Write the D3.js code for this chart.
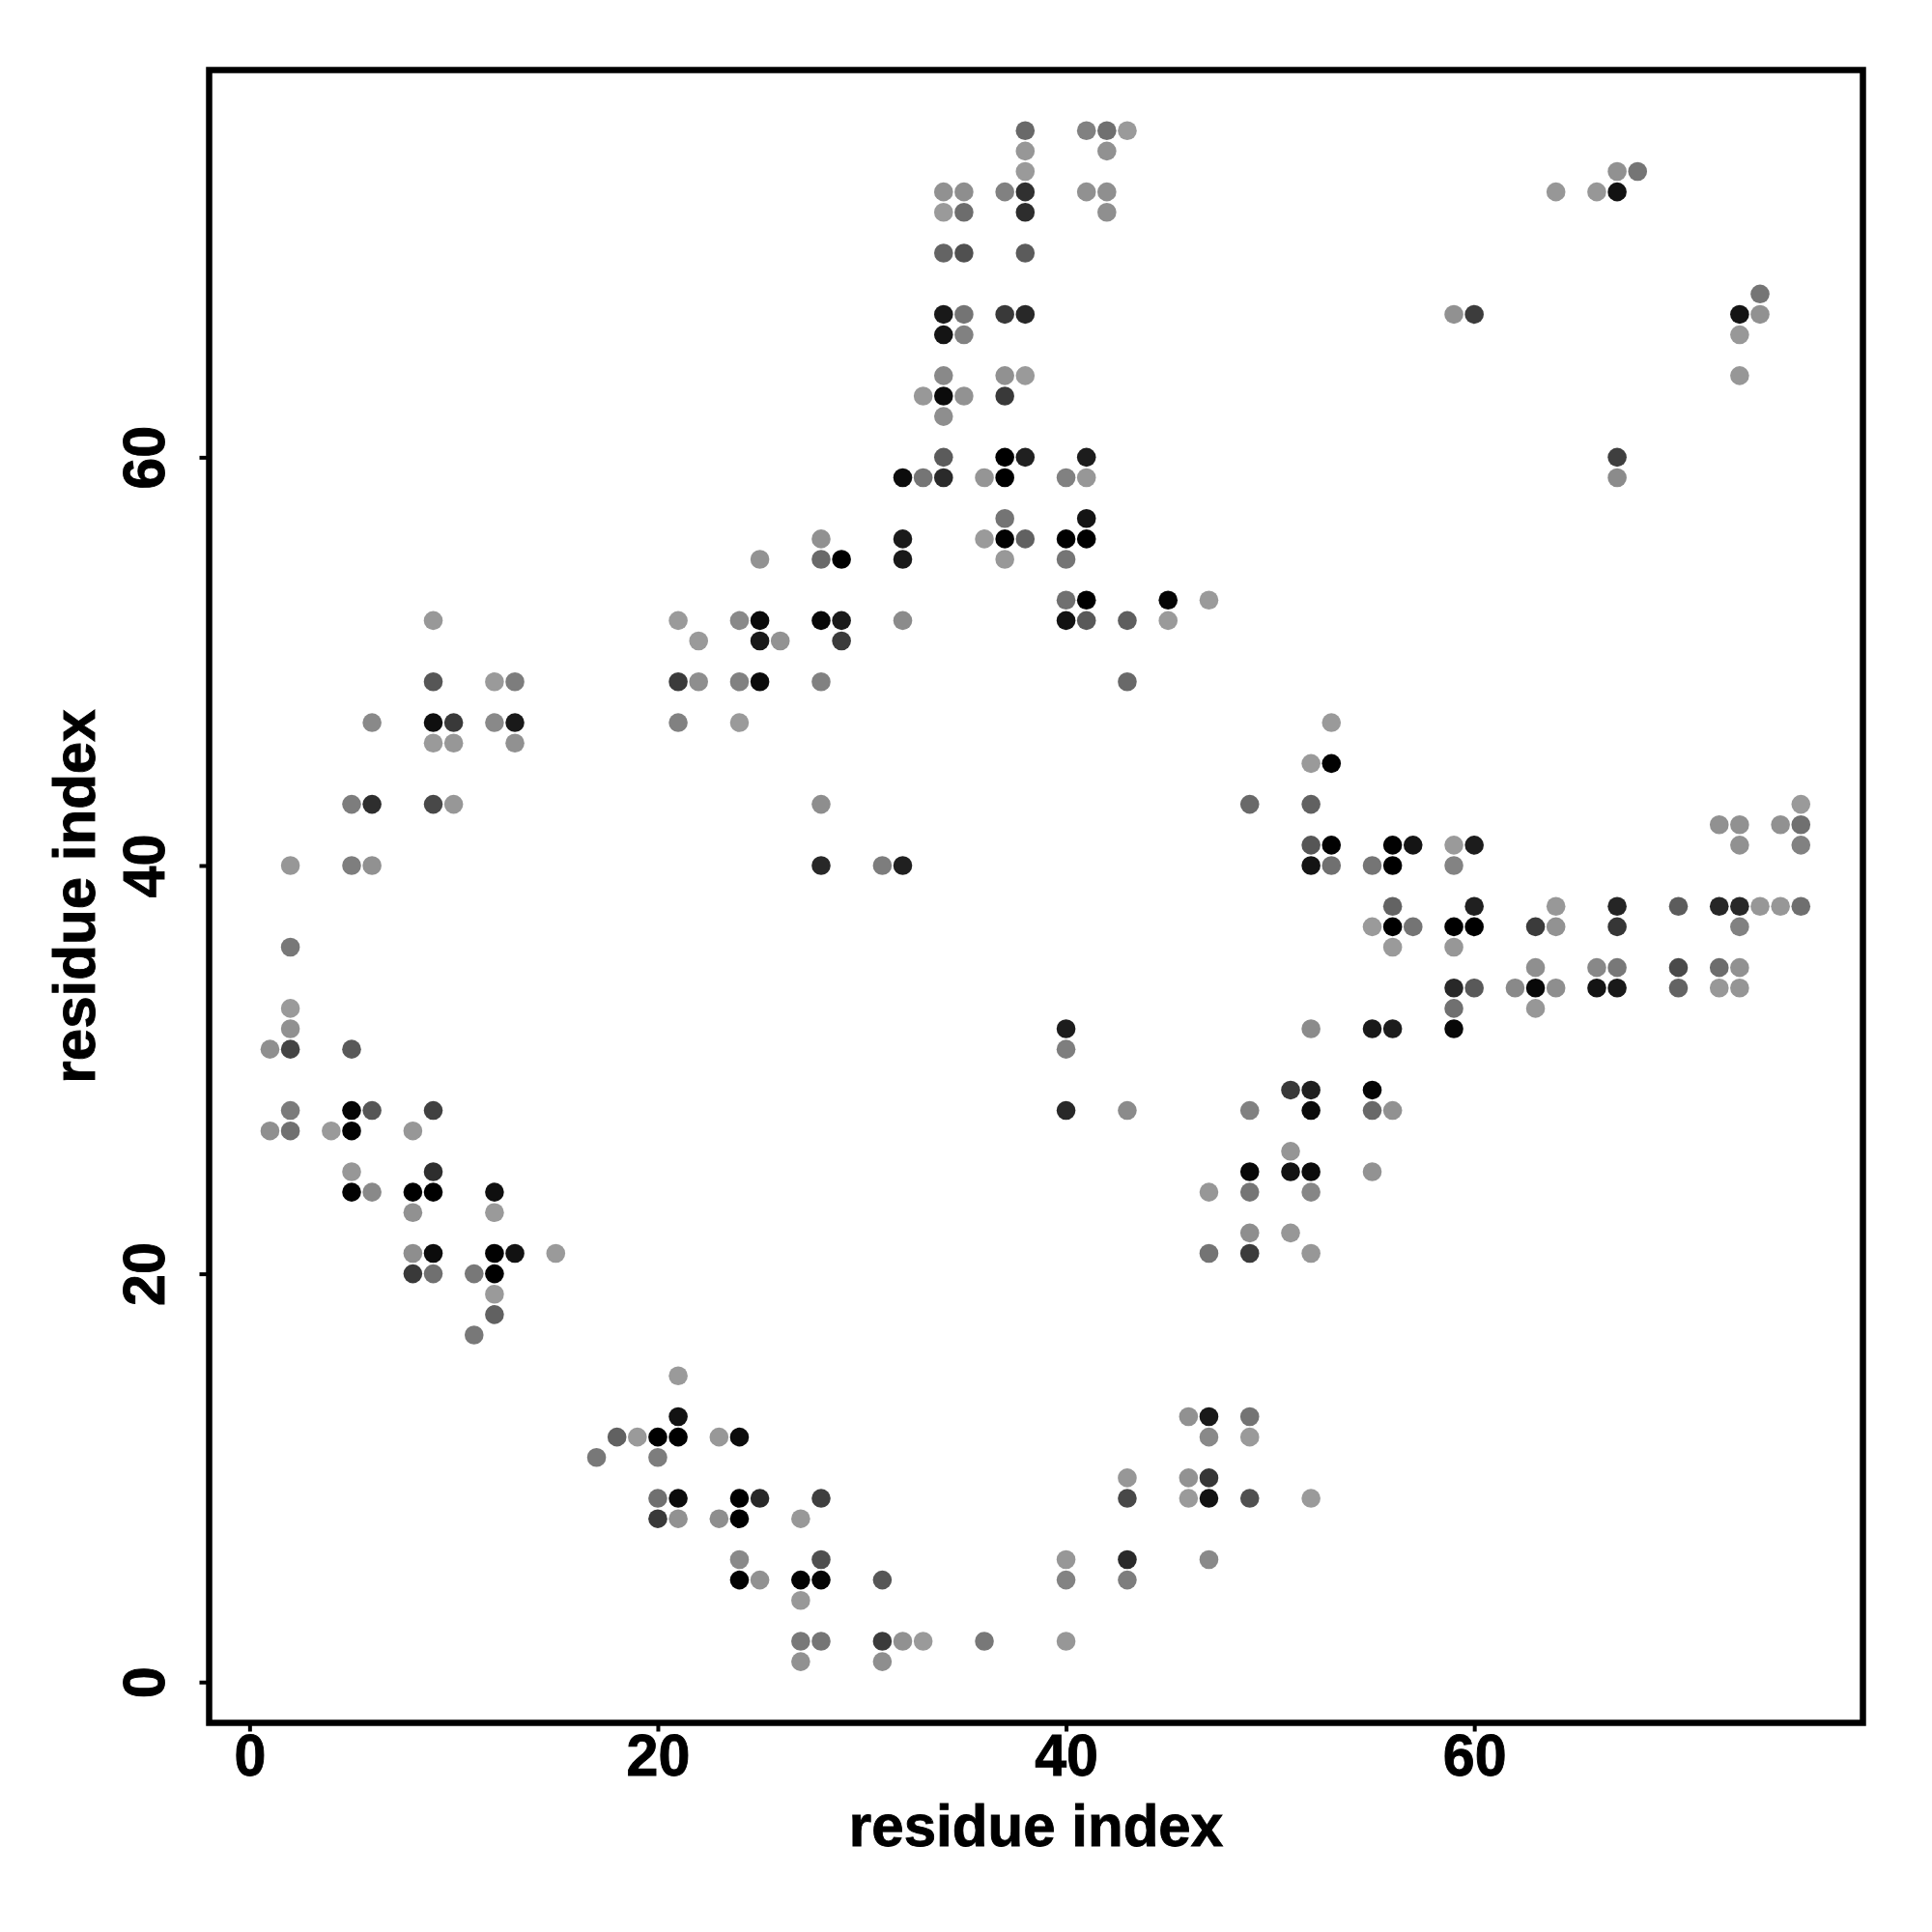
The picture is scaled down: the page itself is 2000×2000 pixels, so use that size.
<!DOCTYPE html>
<html>
<head>
<meta charset="utf-8">
<script src="https://cdn.jsdelivr.net/npm/d3@7/dist/d3.min.js"></script>
<style>
html,body{margin:0;padding:0;background:#fff}
svg{display:block}
text{font-family:"Liberation Sans",Arial,sans-serif;font-weight:700;fill:#000;stroke:#000;stroke-width:0.9px}
</style>
</head>
<body>
<svg id="chart" width="2000" height="2000"></svg>
<script>
// Residue on the vertical axis for each row of contacts
const rowResidue = [76,75,74,73,72,70,68,67,66,64,63,62,60,59,57,56,55,53,52,51,49,47,46,45,43,42,41,40,38,37,36,35,34,33,32,31,29,28,27,26,25,24,23,22,21,20,19,18,17,15,13,12,11,10,9,8,6,5,4,2,1];
// Residues on the horizontal axis that are in contact with that row
const rowPartners = [
[38,41,42,43],[38,42],[38,67,68],[34,35,37,38,41,42,64,66,67],[34,35,38,42],[34,35,38],[74],
[34,35,37,38,59,60,73,74],[34,35,73],[34,37,38,73],[33,34,35,37],[34],[34,37,38,41,67],
[32,33,34,36,37,40,41,67],[37,41],[28,32,36,37,38,40,41],[25,28,29,32,37,40],[40,41,45,47],
[9,21,24,25,28,29,32,40,41,43,45],[22,25,26,29],[9,12,13,21,22,24,25,28,43],[6,9,10,12,13,21,24,53],
[9,10,13],[52,53],[5,6,9,10,28,49,52,76],[72,73,75,76],[52,53,56,57,59,60,73,76],
[2,5,6,28,31,32,52,53,55,56,59],[56,60,64,67,70,72,73,74,75,76],[55,56,57,59,60,63,64,67,73],
[2,56,59],[63,66,67,70,72,73],[59,60,62,63,64,66,67,70,72,73],[2,59,63],[2,40,52,55,56,59],
[1,2,5,40],[51,52,55],[2,5,6,9,40,43,49,52,55,56],[1,2,4,5,8],[51],[5,9,49,51,52,55],
[5,6,8,9,12,47,49,52],[8,12],[49,51],[8,9,12,13,15,47,49,52],[8,9,11,12],[12],[12],[11],[21],
[21,46,47,49],[18,19,20,21,23,24,47,49],[17,20],[43,46,47],[20,21,24,25,28,43,46,47,49,52],
[20,21,23,24,27],[24,28,40,43,47],[24,25,27,28,31,40,43],[27],[27,28,31,32,33,36,40],[27,31]
];
// Contact strength read from the darkness of each point (0 lightest, 100 black)
const rowStrengths = [
[32,16,27,0],[2,6],[0,6,24],[6,8,16,69,6,7,2,2,88],[0,29,71,7],[35,48,41],[24],
[84,25,63,74,6,61,87,6],[87,16,1],[11,6,0,2],[1,93,5,63],[8],[41,100,79,82,59],
[92,24,73,3,100,16,2,10],[25,87],[6,83,0,99,37,100,100],[5,32,100,84,1,24],[27,100,97,0],
[1,0,11,93,95,83,10,88,42,39,0],[0,84,5,62],[44,0,19,62,8,16,93,16,32],[11,90,63,11,84,16,0,0],
[0,2,6],[0,99],[19,70,53,2,8,32,37,0],[6,6,6,27],[44,99,99,87,0,82,6,16],
[2,18,6,74,19,79,87,27,24,100,15],[36,79,1,76,40,75,74,2,2,28],[0,100,25,100,100,62,5,65,16],
[22,0,2],[7,12,22,52,29,6],[74,42,11,95,8,87,84,36,1,3],[0,27,2],[6,82,10,84,82,95],
[7,56,42,18],[63,79,97],[20,97,44,58,74,10,16,93,32,6],[7,27,0,99,2],[3],[2,70,95,88,92,5],
[99,11,100,100,90,2,24,13],[6,0],[8,2],[8,92,99,88,0,25,62,2],[63,27,22,100],[0],[37],[22],[0],
[88,6,84,25],[37,0,100,100,1,92,11,0],[22,19],[2,5,65],[27,93,100,74,59,53,0,88,48,0],
[63,6,8,100,1],[11,49,2,73,11],[99,6,99,97,44,15,19],[1],[22,24,62,6,0,22,2],[6,8]
];
const tickValues = [0,20,40,60];
const axisTitle = "residue index";

const contacts = rowResidue.flatMap((j, r) =>
  rowPartners[r].map((i, k) => ({i, j, s: rowStrengths[r][k]})));

const box = {left:216.5, right:1928.5, top:72.5, bottom:1783.5};
const x = d3.scaleLinear().domain([-1.98, 79.04]).range([box.left, box.right]);
const y = d3.scaleLinear().domain([-2.0, 78.97]).range([box.bottom, box.top]);
const shade = d3.scaleLinear().domain([0, 100]).range(["#9a9a9a", "#000000"]);

const svg = d3.select("#chart");

svg.append("g").selectAll("circle").data(contacts).join("circle")
  .attr("cx", d => x(d.i))
  .attr("cy", d => y(d.j))
  .attr("r", 9.8)
  .attr("fill", d => shade(d.s));

const xAxis = svg.append("g")
  .attr("transform", `translate(0,${box.bottom})`)
  .call(d3.axisBottom(x).tickValues(tickValues).tickSize(9).tickSizeOuter(0));
const yAxis = svg.append("g")
  .attr("transform", `translate(${box.left},0)`)
  .call(d3.axisLeft(y).tickValues(tickValues).tickSize(10).tickSizeOuter(0));

[xAxis, yAxis].forEach(a => {
  a.select(".domain").remove();
  a.selectAll(".tick line").attr("stroke", "#000").attr("stroke-width", 4);
});
xAxis.selectAll(".tick text")
  .attr("y", 55).attr("dy", 0)
  .attr("font-size", 61).attr("text-anchor", "middle")
  .attr("transform", "scale(0.97,1)");
yAxis.selectAll(".tick text")
  .attr("x", 0).attr("dy", 0)
  .attr("font-size", 61).attr("text-anchor", "middle")
  .attr("transform", "translate(-47,0) rotate(-90) scale(0.97,1)");

svg.append("rect")
  .attr("x", box.left).attr("y", box.top)
  .attr("width", box.right - box.left).attr("height", box.bottom - box.top)
  .attr("fill", "none").attr("stroke", "#000").attr("stroke-width", 6.5);

svg.append("text")
  .attr("transform", "translate(1072.5,1911) scale(0.985,1)")
  .attr("text-anchor", "middle").attr("font-size", 61).text(axisTitle);
svg.append("text")
  .attr("transform", "translate(98,928) rotate(-90) scale(0.985,1)")
  .attr("text-anchor", "middle").attr("font-size", 61).text(axisTitle);
</script>
</body>
</html>
